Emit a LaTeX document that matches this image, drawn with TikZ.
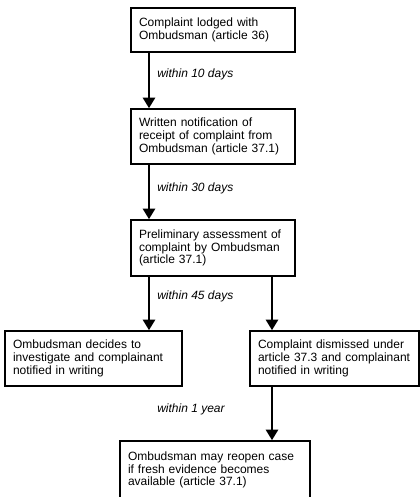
\documentclass[tikz,border=0pt]{standalone}
\usepackage{fontspec}
\setmainfont{Liberation Sans}
\usetikzlibrary{arrows.meta}

\tikzset{
  stage/.style={draw, line width=1.1pt, rectangle, align=left, inner xsep=6pt,
    inner ysep=0pt, font=\fontsize{9}{9.5}\selectfont},
  when/.style={anchor=west, inner sep=0pt, font=\fontsize{9}{9.5}\selectfont\itshape},
  flow/.style={line width=2.2pt, -{Triangle[width=9pt,length=8pt]}}
}

\begin{document}
\begin{tikzpicture}[x=0.75pt,y=-0.75pt]
  \useasboundingbox (0,0) rectangle (420,497);
  \clip (0,0) rectangle (420,497);

  % Main line : complaint up to assessment
  \node[stage, text width=111pt, minimum height=33pt] (lodged) at (213,30)
    {Complaint lodged with\\Ombudsman (article 36)};
  \node[stage, text width=111pt, minimum height=41.25pt] (receipt) at (213,136.5)
    {Written notification of\\receipt of complaint from\\Ombudsman (article 37.1)};
  \node[stage, text width=111pt, minimum height=42pt] (assess) at (213,248)
    {Preliminary assessment of\\complaint by Ombudsman\\(article 37.1)};

  % Outcomes
  \node[stage, text width=120.75pt, minimum height=41.25pt] (investigate) at (93.5,358.5)
    {Ombudsman decides to\\investigate and complainant\\notified in writing};
  \node[stage, text width=114.75pt, minimum height=41.25pt] (dismissed) at (334.5,358.5)
    {Complaint dismissed under\\article 37.3 and complainant\\notified in writing};
  \node[stage, text width=130.5pt, minimum height=43.5pt] (reopen) at (215,470)
    {Ombudsman may reopen case\\if fresh evidence becomes\\available (article 37.1)};

  % Time limits
  \node[when] (t10) at (157,74) {within 10 days};
  \node[when] (t30) at (157,188) {within 30 days};
  \node[when] (t45) at (157,296) {within 45 days};
  \node[when] (t1y) at (157,409) {within 1 year};

  % Arrows
  \draw[flow] (149,0 |- lodged.south) -- (149,0 |- receipt.north);
  \draw[flow] (149,0 |- receipt.south) -- (149,0 |- assess.north);
  \draw[flow] (149,0 |- assess.south) -- (149,0 |- investigate.north);
  \draw[flow] (272,0 |- assess.south) -- (272,0 |- dismissed.north);
  \draw[flow] (272,0 |- dismissed.south) -- (272,0 |- reopen.north);
\end{tikzpicture}
\end{document}
